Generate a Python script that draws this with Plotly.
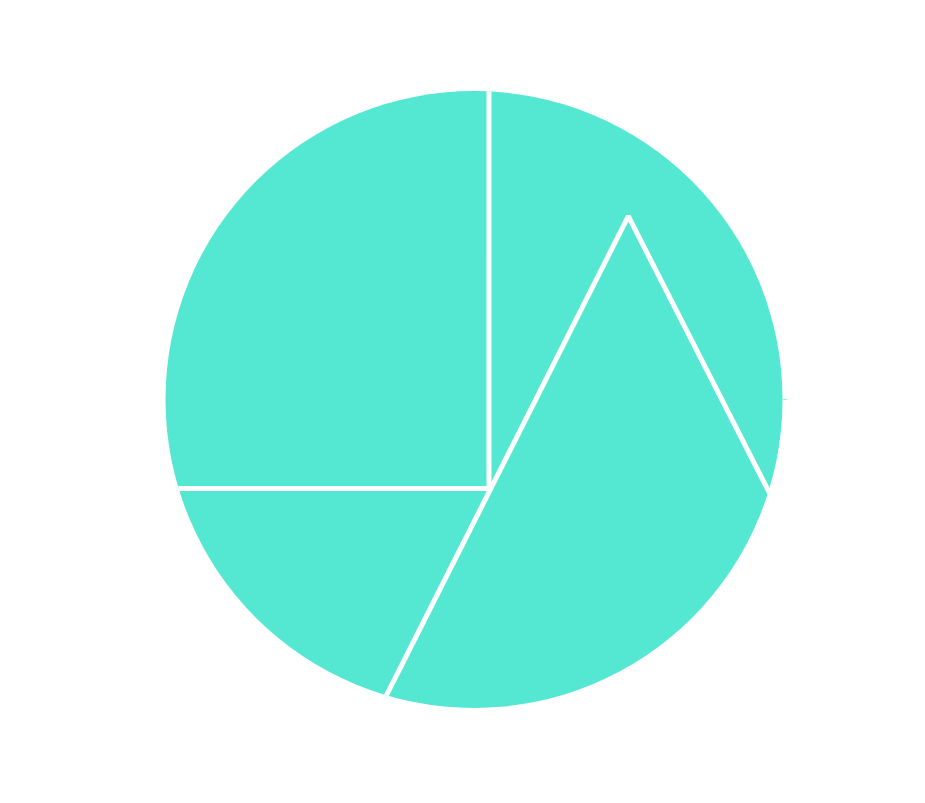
import plotly.graph_objects as go

# Divider lines (polar coords, radial axis range 0-100)
corner_r = [115.1, 29.26, 118.56]
corner_theta = [87.58, 279.56, 194.08]
peak_r = [126.6, 77.67, 118.7]
peak_theta = [251.33, 49.91, 334.1]

fill_color = "#54E8D2"

fig = go.Figure()
fig.add_trace(go.Scatterpolar(r=corner_r, theta=corner_theta, mode="lines",
                              line=dict(color="white", width=5),
                              hoverinfo="skip", showlegend=False))
fig.add_trace(go.Scatterpolar(r=peak_r, theta=peak_theta, mode="lines",
                              line=dict(color="white", width=5),
                              hoverinfo="skip", showlegend=False))

fig.update_layout(
    width=925, height=803,
    margin=dict(l=92, r=85, t=83, b=103),
    paper_bgcolor="white",
    showlegend=False,
    polar=dict(
        bgcolor=fill_color,
        radialaxis=dict(visible=False, range=[0, 100]),
        angularaxis=dict(showline=False, showgrid=False, ticks="outside",
                         tickvals=[0], ticklen=4, tickwidth=1,
                         tickcolor="#8FEFE1", showticklabels=False),
    ),
)

fig.write_html("out.html")
